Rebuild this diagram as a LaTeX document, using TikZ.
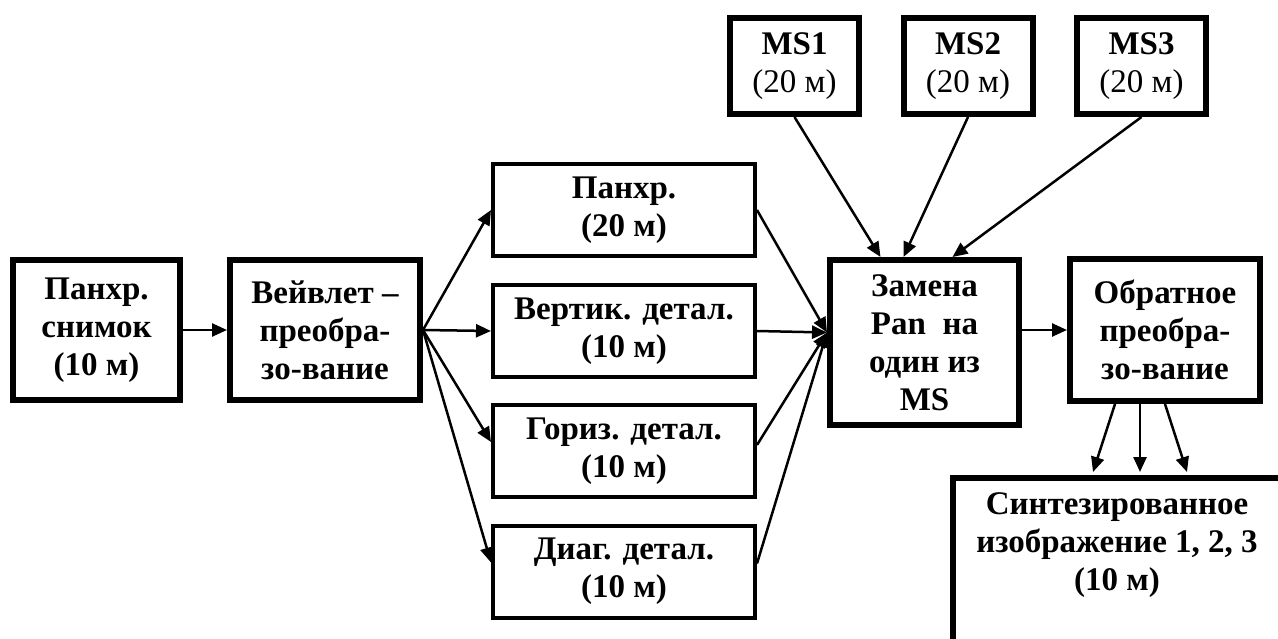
\documentclass[tikz,border=0pt]{standalone}
\usepackage{fontspec}
\setmainfont{Liberation Serif}
\usetikzlibrary{positioning, calc, arrows.meta}

\begin{document}
\begin{tikzpicture}[x=1pt, y=-1pt,
  every node/.style={font=\fontsize{33}{38}\selectfont\bfseries, align=center, inner sep=0pt},
  heavybox/.style={draw, line width=6pt},
  lightbox/.style={draw, line width=4pt, minimum width=262pt, minimum height=92pt},
  msbox/.style={heavybox, minimum width=129pt, minimum height=96pt},
  flow/.style={line width=2.5pt, -{Triangle[length=15pt, width=13pt]}},
]
  % picture frame
  \useasboundingbox (0,0) rectangle (1278,639);
  \clip (0,0) rectangle (1278,639);

  % left chain
  \node[heavybox, minimum width=167pt, minimum height=140pt] (pan) at (96.5,330) {Панхр.\\снимок\\(10 м)};
  \node[heavybox, minimum width=190pt, minimum height=140pt] (wav) at (325,330) {Вейвлет –\\преобра-\\зо-вание};

  % wavelet components
  \node[lightbox] (cpan) at (624,210) {Панхр.\\(20 м)};
  \node[lightbox] (cver) at (624,331) {Вертик. детал.\\(10 м)};
  \node[lightbox] (chor) at (624,451) {Гориз. детал.\\(10 м)};
  \node[lightbox] (cdia) at (624,571.5) {Диаг. детал.\\(10 м)};

  % multispectral bands
  \node[msbox] (ms1) at (794.5,66) {MS1\\{\mdseries(20 м)}};
  \node[msbox] (ms2) at (968,66) {MS2\\{\mdseries(20 м)}};
  \node[msbox] (ms3) at (1141.5,66) {MS3\\{\mdseries(20 м)}};

  % substitution and inverse
  \node[heavybox, minimum width=189pt, minimum height=165pt] (zam) at (924.5,342.5) {Замена\\Pan\ \ на\\один из\\MS};
  \node[heavybox, minimum width=190pt, minimum height=142pt] (obr) at (1165,330) {Обратное\\преобра-\\зо-вание};

  % result (runs off the page)
  \node[heavybox, anchor=north west, minimum width=400pt, minimum height=260pt] (syn) at (950,475) {};
  \node (syntxt) at (1117,545) {Синтезированное\\изображение 1, 2, 3\\(10 м)};

  % arrows
  \draw[flow] (pan) -- (wav);
  \draw[flow] (wav.east) -- (cpan.west);
  \draw[flow] (wav.east) -- (cver.west);
  \draw[flow] (wav.east) -- ([yshift=9pt]chor.west);
  \draw[flow] (wav.east) -- ([yshift=9pt]cdia.west);

  \coordinate (zin) at ([yshift=10pt]zam.west);
  \draw[flow] (cpan.east) -- (zin);
  \draw[flow] (cver.east) -- (zin);
  \draw[flow] ([yshift=6pt]chor.east) -- (zin);
  \draw[flow] ([yshift=8pt]cdia.east) -- (zin);

  \draw[flow] (ms1.south) -- ([xshift=-44pt]zam.north);
  \draw[flow] (ms2.south) -- ([xshift=-21pt]zam.north);
  \draw[flow] (ms3.south) -- ([xshift=28pt]zam.north);

  \draw[flow] (zam.east |- obr.east) -- (obr.west);

  \draw[flow] ([xshift=-50pt]obr.south) -- ($(syn.north west)+(143,-3)$);
  \draw[flow] ([xshift=-25pt]obr.south) -- ($(syn.north west)+(190,-3)$);
  \draw[flow] (obr.south) -- ($(syn.north west)+(237,-3)$);
\end{tikzpicture}
\end{document}
